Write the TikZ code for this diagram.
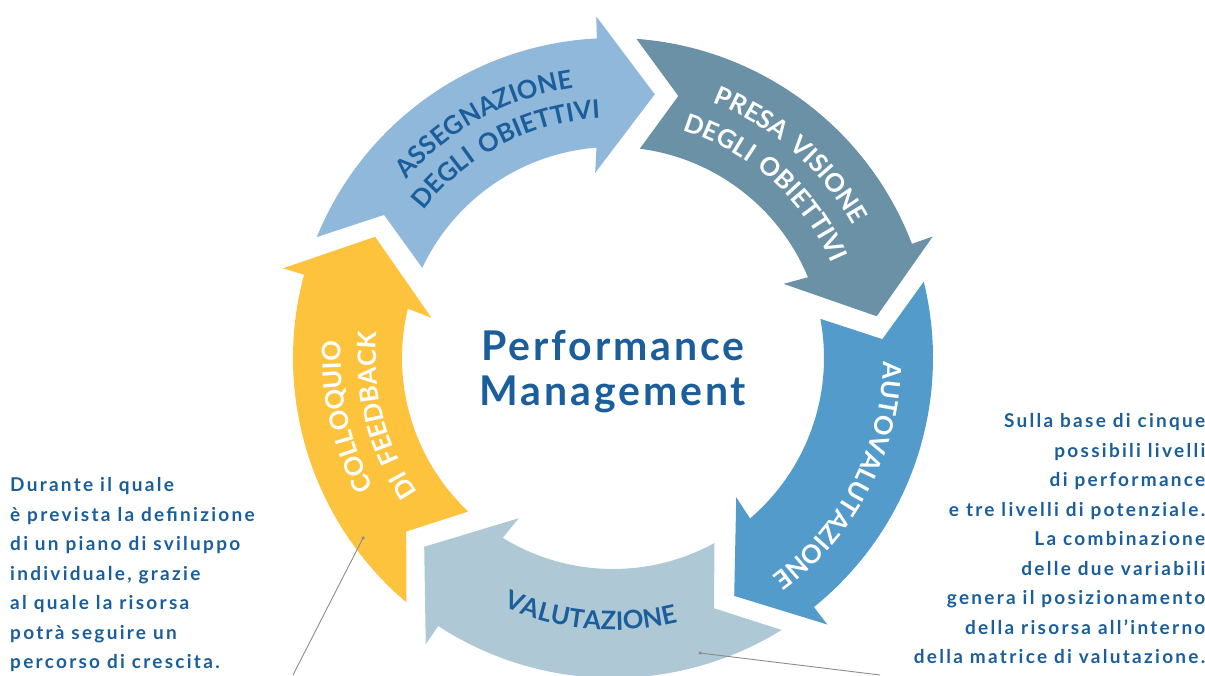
\documentclass[tikz,border=0pt]{standalone}
\usepackage{fontspec}
\setmainfont{Lato}
\newfontfamily\lblfont[LetterSpace=13]{Lato}
\newfontfamily\sidefont[LetterSpace=12]{Lato}
\newfontfamily\titlefont[LetterSpace=7]{Lato}
\usetikzlibrary{decorations.text}
\definecolor{tblue}{HTML}{1A5E9C}
\definecolor{arrA}{HTML}{90B8DB}
\definecolor{arrB}{HTML}{6B91A7}
\definecolor{arrC}{HTML}{529BCB}
\definecolor{arrD}{HTML}{AFC8D5}
\definecolor{arrE}{HTML}{FDC33D}
\newcommand\lbl{\lblfont\bfseries\fontsize{25.5}{28}\selectfont}
% #1 tip angle, #2 colour
\newcommand\cyclearrow[2]{%
  \fill[#2] (#1:267pt) -- ({#1+11.8}:342pt) -- ({#1+11.9}:320pt)
    arc[start angle={#1+11.9}, end angle={#1+76.8}, radius=320pt]
    -- ({#1+67}:270pt) -- ({#1+73.7}:211pt)
    arc[start angle={#1+73.7}, end angle={#1+13.5}, radius=211pt]
    -- ({#1+14.5}:186pt) -- cycle;}
% #1 centre angle, #2 baseline radius, #3 direction (+1 ccw, -1 cw), #4 text, #5 colour
\newcommand\arctext[5]{%
  \path[decorate, decoration={text along path, text={|\lbl|#4}, text align=center, text color=#5}]
    ({#1-(#3)*50}:#2pt) arc[start angle={#1-(#3)*50}, end angle={#1+(#3)*50}, radius=#2pt];}
\tikzset{
  leader/.style={draw=gray!90, line width=0.9pt},
  leaderdot/.style={circle, fill=gray!90, inner sep=0pt, minimum size=3.5pt},
  sidetext/.style={text=tblue, inner sep=0pt, font=\sidefont\bfseries\fontsize{19}{29.5}\selectfont},
  titletext/.style={text=tblue, inner sep=0pt, align=center, font=\titlefont\bfseries\fontsize{41}{45}\selectfont}
}
\begin{document}
\begin{tikzpicture}[x=1pt,y=1pt]
\useasboundingbox (0,0) rectangle (1205,675);
\clip (0,0) rectangle (1205,675);
\begin{scope}[shift={(613,317)}]
  \cyclearrow{81}{arrA}
  \cyclearrow{9}{arrB}
  \cyclearrow{-63}{arrC}
  \cyclearrow{-135}{arrD}
  \cyclearrow{153}{arrE}
  \arctext{118.7}{273}{-1}{ASSEGNAZIONE}{tblue}
  \arctext{117.6}{240}{-1}{DEGLI OBIETTIVI}{tblue}
  \arctext{48.8}{274}{-1}{PRESA VISIONE}{white}
  \arctext{48.2}{238}{-1}{DEGLI OBIETTIVI}{white}
  \arctext{-27.4}{270}{-1}{AUTOVALUTAZIONE}{white}
  \arctext{-95}{272}{1}{VALUTAZIONE}{tblue}
  \arctext{192.5}{272}{-1}{COLLOQUIO}{white}
  \arctext{194.2}{237}{-1}{DI FEEDBACK}{white}
\end{scope}
\node[titletext, anchor=north] (title) at (613,345) {Performance\\Management};
\node[sidetext, anchor=north west, align=left] (lefttext) at (10,197.5)
  {Durante il quale\\è prevista la definizione\\di un piano di sviluppo\\individuale, grazie\\al quale la risorsa\\potrà seguire un\\percorso di crescita.};
\node[sidetext, anchor=north east, align=right] (righttext) at (1205.5,261.5)
  {Sulla base di cinque\\possibili livelli\\di performance\\e tre livelli di potenziale.\\La combinazione\\delle due variabili\\genera il posizionamento\\della risorsa all’interno\\della matrice di valutazione.};
\node[leaderdot] (d1) at (363,137) {};
\coordinate (e1) at (293,0);
\node[leaderdot] (d2) at (700,22) {};
\coordinate (e2) at (880,0);
\draw[leader] (d1.center) -- (e1);
\draw[leader] (d2.center) -- (e2);
\end{tikzpicture}
\end{document}
